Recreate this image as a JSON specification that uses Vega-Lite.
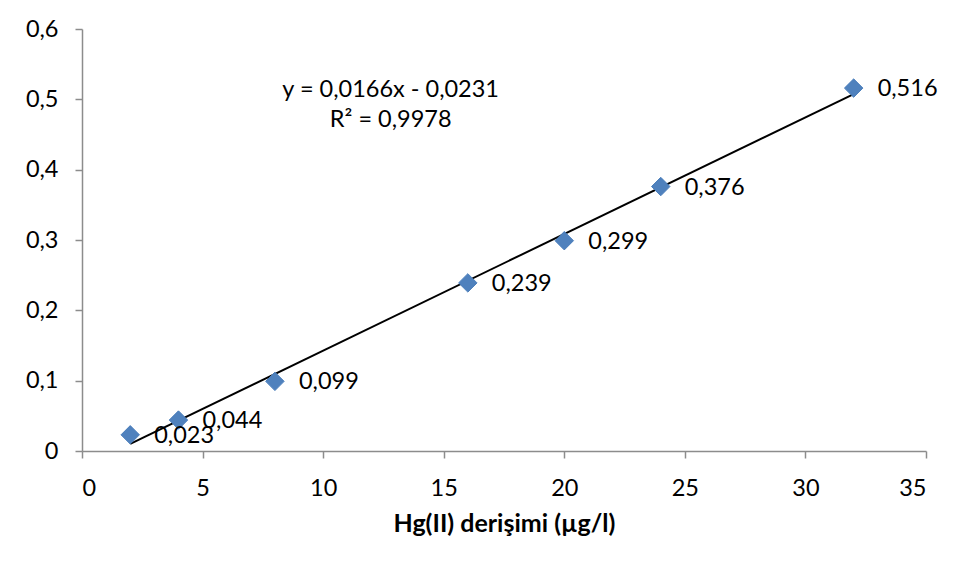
{
  "$schema": "https://vega.github.io/schema/vega-lite/v6.json",
  "width": 844,
  "height": 422,
  "autosize": "none",
  "padding": {"left": 82, "top": 29, "right": 35, "bottom": 128},
  "background": "white",
  "config": {
    "view": {"stroke": null},
    "font": "Lato",
    "axis": {
      "domainColor": "#8c8c8c",
      "domainWidth": 1.5,
      "tickColor": "#8c8c8c",
      "tickWidth": 1.5,
      "tickSize": 7,
      "grid": false,
      "labelFont": "Lato",
      "labelFontSize": 23.5,
      "labelColor": "#000000",
      "titleFont": "Lato",
      "titleColor": "#000000"
    }
  },
  "datasets": {
    "points": [
      {"conc": 2, "abs": 0.023, "label": "0,023"},
      {"conc": 4, "abs": 0.044, "label": "0,044"},
      {"conc": 8, "abs": 0.099, "label": "0,099"},
      {"conc": 16, "abs": 0.239, "label": "0,239"},
      {"conc": 20, "abs": 0.299, "label": "0,299"},
      {"conc": 24, "abs": 0.376, "label": "0,376"},
      {"conc": 32, "abs": 0.516, "label": "0,516"}
    ],
    "equation": [
      {"conc": 12.8, "abs": 0.5135, "text": "y = 0,0166x - 0,0231"},
      {"conc": 12.8, "abs": 0.4706, "text": "R² = 0,9978"}
    ]
  },
  "layer": [
    {
      "data": {"name": "points"},
      "transform": [{"regression": "abs", "on": "conc"}],
      "mark": {"type": "line", "color": "#000000", "strokeWidth": 2},
      "encoding": {
        "x": {
          "field": "conc",
          "type": "quantitative",
          "scale": {"domain": [0, 35], "nice": false, "zero": false},
          "axis": {
            "values": [0, 5, 10, 15, 20, 25, 30, 35],
            "labelPadding": 18,
            "labelBaseline": "top",
            "title": "Hg(II) derişimi (µg/l)",
            "titleFontSize": 25,
            "titleFontWeight": "bold",
            "titlePadding": 12
          }
        },
        "y": {
          "field": "abs",
          "type": "quantitative",
          "scale": {"domain": [0, 0.6], "nice": false},
          "axis": {
            "values": [0, 0.1, 0.2, 0.3, 0.4, 0.5, 0.6],
            "labelExpr": "datum.value == 0 ? '0' : replace(format(datum.value, '.1f'), '.', ',')",
            "labelPadding": 17,
            "title": null
          }
        }
      }
    },
    {
      "data": {"name": "points"},
      "mark": {"type": "point", "shape": "diamond", "filled": true, "size": 340, "color": "#4F81BD", "stroke": "#4A7EBB", "strokeWidth": 1, "opacity": 1},
      "encoding": {
        "x": {"field": "conc", "type": "quantitative"},
        "y": {"field": "abs", "type": "quantitative"}
      }
    },
    {
      "data": {"name": "points"},
      "mark": {"type": "text", "align": "left", "baseline": "middle", "dx": 24, "dy": 1, "fontSize": 23.5, "font": "Lato", "color": "#000000"},
      "encoding": {
        "x": {"field": "conc", "type": "quantitative"},
        "y": {"field": "abs", "type": "quantitative"},
        "text": {"field": "label"}
      }
    },
    {
      "data": {"name": "equation"},
      "mark": {"type": "text", "align": "center", "baseline": "middle", "fontSize": 23.5, "font": "Lato", "color": "#000000"},
      "encoding": {
        "x": {"field": "conc", "type": "quantitative"},
        "y": {"field": "abs", "type": "quantitative"},
        "text": {"field": "text"}
      }
    }
  ]
}
